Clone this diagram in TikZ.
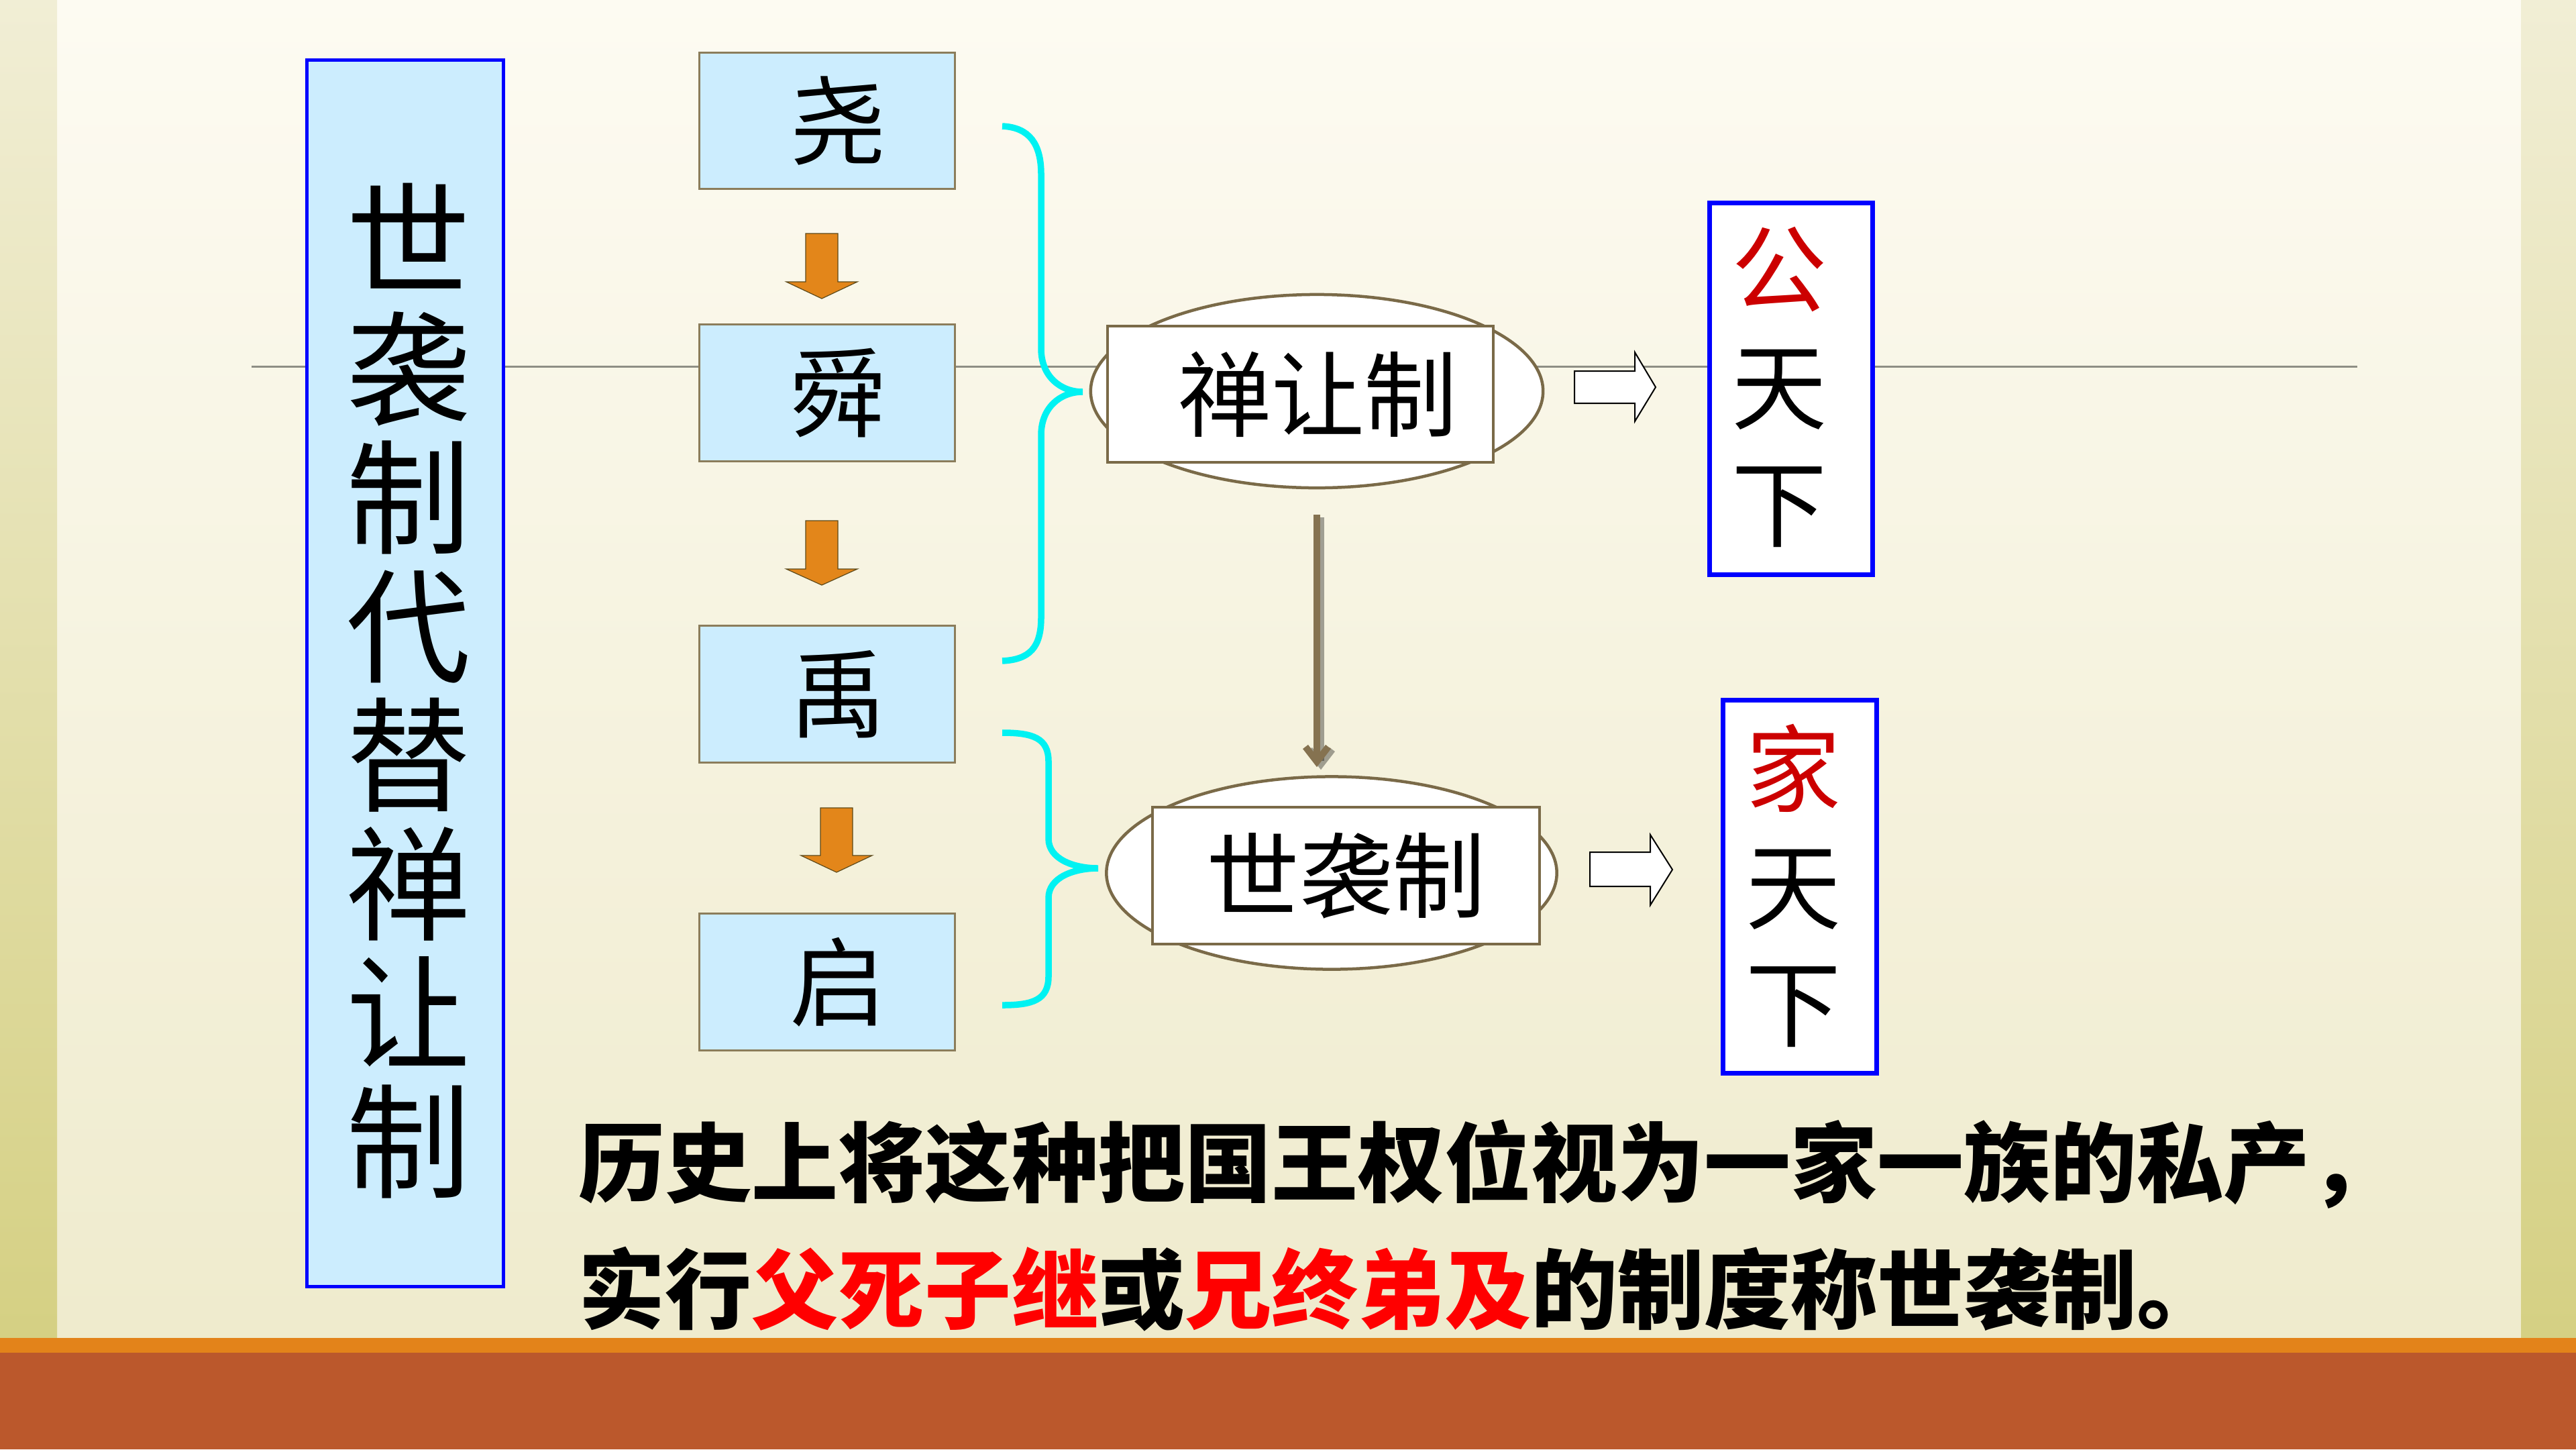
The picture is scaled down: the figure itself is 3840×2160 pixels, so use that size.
\documentclass[tikz,border=0pt]{standalone}
\usepackage{fontspec}
\setmainfont{Noto Sans CJK SC}
\usetikzlibrary{shapes.geometric,arrows.meta}
\definecolor{bgtop}{HTML}{FDFBF2}
\definecolor{bgbot}{HTML}{EFEBCD}
\definecolor{stripTop}{HTML}{F1EED5}
\definecolor{stripBot}{HTML}{D5D083}
\definecolor{orangeband}{HTML}{E3831A}
\definecolor{brownband}{HTML}{BB582C}
\definecolor{lightblue}{HTML}{CCEDFE}
\definecolor{tanline}{HTML}{8B7D5B}
\definecolor{ellline}{HTML}{7A6A48}
\definecolor{arrowtan}{HTML}{857250}
\definecolor{orangearrow}{HTML}{E3861A}
\definecolor{orangeedge}{HTML}{5D4A1A}
\definecolor{bracecyan}{HTML}{00F2F2}
\definecolor{darkred}{HTML}{CC0000}
\definecolor{grayline}{HTML}{8F8F85}
\begin{document}
\begin{tikzpicture}[x=0.01cm,y=-0.01cm,
  bigbox/.style={draw=blue, line width=0.05cm, fill=lightblue, inner sep=0pt},
  namebox/.style={draw=tanline, line width=0.03cm, fill=lightblue, minimum width=3.8cm,
    minimum height=2.03cm, inner sep=0pt, font=\fontsize{41}{41}\selectfont},
  ellnode/.style={ellipse, draw=ellline, line width=0.045cm, fill=white, inner sep=0pt},
  rectnode/.style={draw=ellline, line width=0.035cm, fill=white, inner sep=0pt,
    font=\fontsize{39.5}{39.5}\selectfont},
  resultbox/.style={draw=blue, line width=0.07cm, fill=white, inner sep=0pt},
  resulttext/.style={align=center, inner sep=0pt, font=\fontsize{40.4}{49.8}\selectfont},
  orangedown/.style={fill=orangearrow, draw=orangeedge, line width=0.012cm, line join=miter},
  hollow/.style={fill=white, draw=black, line width=0.02cm, line join=miter},
  brace/.style={draw=bracecyan, line width=0.095cm},
  bottomtext/.style={anchor=base west, inner sep=0pt, font=\fontsize{36.7}{36.7}\selectfont\bfseries}
]
\useasboundingbox (0,0) rectangle (3840,2160);
% background
\shade[top color=bgtop, bottom color=bgbot] (0,0) rectangle (3840,1994);
\shade[top color=stripTop, bottom color=stripBot] (0,0) rectangle (85,1994);
\shade[top color=stripTop, bottom color=stripBot] (3758,0) rectangle (3840,1994);
\fill[orangeband] (0,1994) rectangle (3840,2016);
\fill[brownband] (0,2016) rectangle (3840,2160);
% horizontal guide line
\draw[grayline, line width=0.03cm] (375,546) -- (3514,546);

% left vertical box
\node[bigbox, minimum width=2.92cm, minimum height=18.27cm] (big) at (604,1003.5) {};
\node[align=center, inner sep=0pt, font=\fontsize{52.6}{54.6}\selectfont] (bigtext) at (609,1030)
  {世\\袭\\制\\代\\替\\禅\\让\\制};

% name boxes
\node[namebox] (yao) at (1233,180) {\hspace*{0.34cm}尧};
\node[namebox] (shun) at (1233,585.5) {\hspace*{0.34cm}舜};
\node[namebox] (yu) at (1233,1034.5) {\hspace*{0.34cm}禹};
\node[namebox] (qi) at (1233,1463.5) {\hspace*{0.34cm}启};

% orange down arrows
\draw[orangedown] (1201,348) -- (1249,348) -- (1249,420) -- (1278,420) -- (1225,445) -- (1172,420) -- (1201,420) -- cycle;
\draw[orangedown] (1201,776) -- (1249,776) -- (1249,848) -- (1278,848) -- (1225,872) -- (1172,848) -- (1201,848) -- cycle;
\draw[orangedown] (1223,1204) -- (1271,1204) -- (1271,1275) -- (1300,1275) -- (1247,1300) -- (1194,1275) -- (1223,1275) -- cycle;

% braces
\draw[brace] (1494,188) .. controls (1535,190) and (1552,215) .. (1552,260) -- (1552,520)
  .. controls (1552,560) and (1580,584) .. (1614,584)
  .. controls (1580,584) and (1552,608) .. (1552,648) -- (1552,920)
  .. controls (1552,965) and (1535,983) .. (1494,985);
\draw[brace] (1494,1092) .. controls (1540,1092) and (1563,1100) .. (1563,1135) -- (1563,1250)
  .. controls (1563,1280) and (1600,1294) .. (1637,1294)
  .. controls (1600,1294) and (1563,1308) .. (1563,1338) -- (1563,1455)
  .. controls (1563,1490) and (1540,1498) .. (1494,1498);

% ellipses with rectangles
\node[ellnode, minimum width=6.74cm, minimum height=2.88cm] (e1) at (1963,583) {};
\node[rectnode, minimum width=5.75cm, minimum height=2.03cm] (r1) at (1938.5,587.5) {\hspace*{0.52cm}禅让制};
\node[ellnode, minimum width=6.71cm, minimum height=2.87cm] (e2) at (1985,1301) {};
\node[rectnode, minimum width=5.77cm, minimum height=2.04cm] (r2) at (2006.5,1305) {世袭制};

% vertical connector with shadow
\draw[black, opacity=0.35, line width=0.1cm, shorten <=0.38cm, shorten >=0.12cm,
  -{Straight Barb[length=0.22cm,width=0.34cm]}, transform canvas={xshift=0.06cm,yshift=-0.04cm}]
  (e1.south) -- (e1.south |- e2.north);
\draw[arrowtan, line width=0.1cm, shorten <=0.38cm, shorten >=0.12cm,
  -{Straight Barb[length=0.22cm,width=0.34cm]}]
  (e1.south) -- (e1.south |- e2.north);

% hollow arrows
\draw[hollow] (2347,553) -- (2437,553) -- (2437,525) -- (2468,577) -- (2437,628) -- (2437,601) -- (2347,601) -- cycle;
\draw[hollow] (2370,1270) -- (2460,1270) -- (2460,1244) -- (2493,1296) -- (2460,1349) -- (2460,1321) -- (2370,1321) -- cycle;

% result boxes
\node[resultbox, minimum width=2.42cm, minimum height=5.53cm] (gong) at (2670,579.5) {};
\node[resulttext] (gongtext) at (2652,577) {{\color{darkred}公}\\天\\下};
\node[resultbox, minimum width=2.28cm, minimum height=5.55cm] (jia) at (2683,1321.5) {};
\node[resulttext] (jiatext) at (2673,1320) {{\color{darkred}家}\\天\\下};

% bottom text
\node[bottomtext] (line1) at (862,1781) {历史上将这种把国王权位视为一家一族的私产，};
\node[bottomtext] (line2) at (862,1970) {实行{\color{red}父死子继}或{\color{red}兄终弟及}的制度称世袭制。};
\end{tikzpicture}
\end{document}
